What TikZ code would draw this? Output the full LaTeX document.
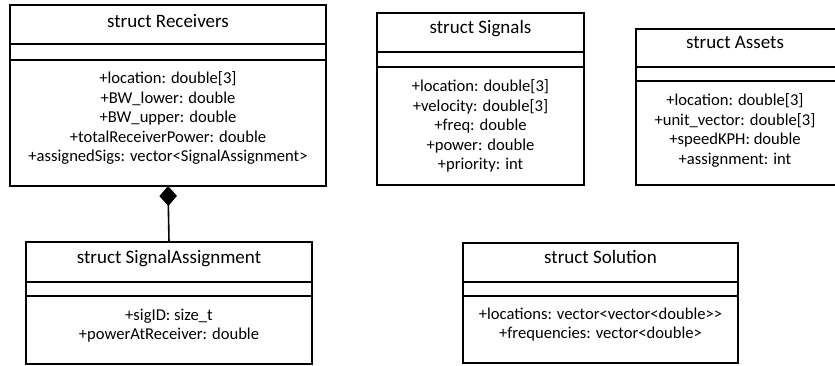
\documentclass[tikz,border=0pt]{standalone}
\usepackage{fontspec}
\setmainfont{Carlito}
\usetikzlibrary{arrows.meta}

\tikzset{
  classbox/.style={draw=black, line width=1.8pt, fill=white, inner sep=0pt, outer sep=0pt},
  sepline/.style={draw=black, line width=1.8pt},
  titletext/.style={inner sep=0pt, anchor=base, font=\fontsize{19}{23}\selectfont},
  attrtext/.style={inner sep=0pt, anchor=base, font=\fontsize{16.6}{19.5}\selectfont},
  composition/.style={draw=black, line width=1.6pt,
    -{Diamond[fill=black, length=20pt, width=17.5pt, line width=1pt]}}
}

% class box: name, left, top, right, bottom, end of header, end of empty part
\newcommand\umlbox[7]{%
  \node[classbox, minimum width={(#4-#2)*1pt}, minimum height={(#5-#3)*1pt}]
    (#1) at ({(#2+#4)/2},{(#3+#5)/2}) {};
  \draw[sepline] (#2,#6) -- (#4,#6);
  \draw[sepline] (#2,#7) -- (#4,#7);
}
% class text: name, centre x, title baseline, title, first attribute baseline, attributes
\newcommand\umltext[6]{%
  \node[titletext] (#1-title) at (#2,#3) {#4};
  \foreach \t [count=\i] in {#6}
    \node[attrtext] (#1-a\i) at (#2,{#5+(\i-1)*19.5}) {\t};
}

\begin{document}
\begin{tikzpicture}[x=1pt,y=-1pt]
  \useasboundingbox (0,0) rectangle (835,366);
  \clip (0,0) rectangle (835,366);
  \fill[white] (0,0) rectangle (835,366);

  % struct Receivers
  \umlbox{rec}{10}{5}{326}{186}{44}{60}
  \umltext{rec}{168}{27.5}{struct Receivers}{84}{%
    +location: double[3],
    +BW\_lower: double,
    +BW\_upper: double,
    +totalReceiverPower: double,
    +assignedSigs: vector<SignalAssignment>}

  % struct Signals
  \umlbox{sig}{377}{13}{584}{185}{52}{67}
  \umltext{sig}{480.5}{33.5}{struct Signals}{92}{%
    +location: double[3],
    +velocity: double[3],
    +freq: double,
    +power: double,
    +priority: int}

  % struct Assets
  \umlbox{ast}{636}{29}{842}{185}{67}{81}
  \umltext{ast}{735}{48.5}{struct Assets}{106}{%
    +location: double[3],
    +unit\_vector: double[3],
    +speedKPH: double,
    +assignment: int}

  % struct SignalAssignment
  \umlbox{sa}{26}{242}{312}{364}{282}{296}
  \umltext{sa}{169}{263}{struct SignalAssignment}{320}{%
    +sigID: size\_t,
    +powerAtReceiver: double}

  % struct Solution
  \umlbox{sol}{463}{243}{738}{363}{282}{296}
  \umltext{sol}{600.5}{263}{struct Solution}{319}{%
    +locations: vector<vector<double>\kern0pt>,
    +frequencies: vector<double>}

  % composition: Receivers owns SignalAssignment
  \draw[composition] (sa.north) -- (rec.south);
\end{tikzpicture}
\end{document}
